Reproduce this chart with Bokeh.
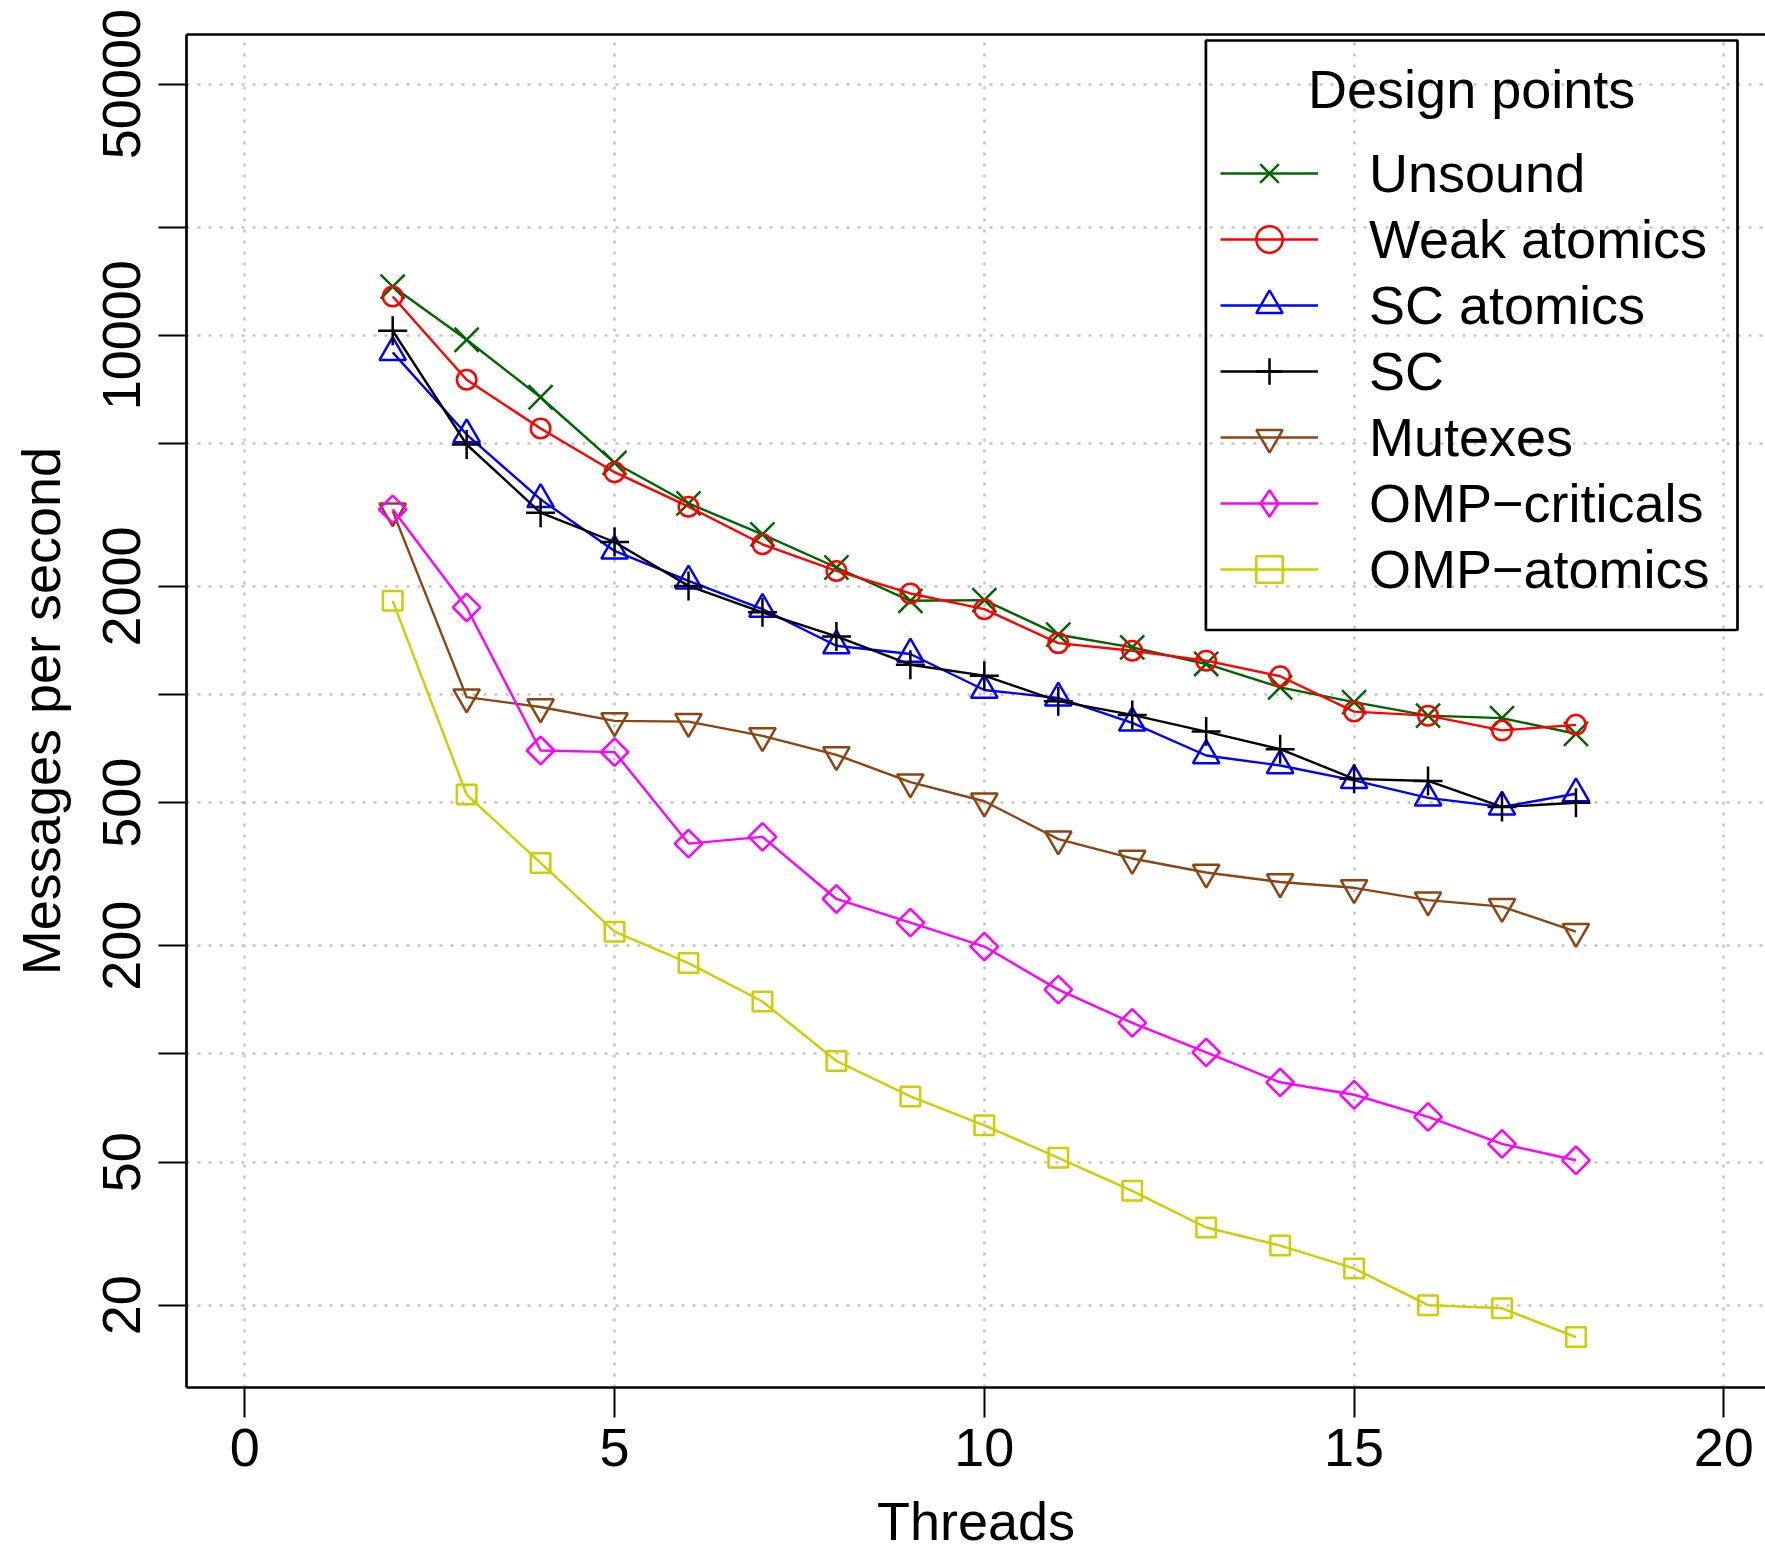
import math
from bokeh.plotting import figure
from bokeh.models import (FixedTicker, PrintfTickFormatter, Legend, LegendItem,
                          LinearAxis, Range1d, Label, BoxAnnotation)
from bokeh.embed import file_html
from bokeh.resources import INLINE

# ---------------- data ----------------
threads = list(range(2, 19))
unsound = [13660, 9716, 6722, 4417, 3404, 2793, 2258, 1824, 1832, 1468, 1354, 1217, 1048, 953, 874, 860, 778]
weak_atomics = [12814, 7522, 5500, 4159, 3334, 2620, 2209, 1912, 1729, 1391, 1325, 1243, 1125, 897, 874, 795, 824]
sc_atomics = [8960, 5293, 3494, 2511, 2073, 1729, 1368, 1297, 1030, 979, 834, 677, 635, 577, 516, 487, 530]
sc = [10292, 4966, 3208, 2659, 2007, 1694, 1452, 1211, 1129, 959, 878, 789, 705, 583, 575, 487, 500]
mutexes = [3241, 984, 924, 845, 841, 768, 680, 571, 505, 396, 350, 320, 301, 290, 268, 257, 219]
omp_criticals = [3278, 1748, 699, 692, 385, 402, 270, 232, 199, 151, 122, 101, 83.4, 77.0, 66.8, 56.2, 50.6]
omp_atomics = [1824, 527, 340, 219, 179, 140, 95.6, 76.2, 63.3, 51.4, 41.6, 32.9, 29.3, 25.3, 20.0, 19.6, 16.3]

series_names = ["Unsound", "Weak atomics", "SC atomics", "SC", "Mutexes",
                "OMP\u2212criticals", "OMP\u2212atomics"]
series_values = [unsound, weak_atomics, sc_atomics, sc, mutexes, omp_criticals, omp_atomics]

x_ticks = [0, 5, 10, 15, 20]
y_labeled_ticks = [20, 50, 200, 500, 2000, 10000, 50000]
y_unlabeled_ticks = [100, 1000, 5000, 20000]

legend_title = "Design points"
x_title = "Threads"
y_title = "Messages per second"

# ---------------- styles ----------------
colors = ["#006400", "#FF0000", "#0000FF", "#000000", "#8B4513", "#FF00FF", "#CDCD00"]
markers = ["x", "circle", "triangle", "cross", "inverted_triangle", "square", "square"]
legend_markers = ["x", "circle", "triangle", "cross", "inverted_triangle", "diamond", "square"]
sizes = [34, 19.5, 26.5, 29, 26.5, 19.5, 19.5]
angles = [0, 0, 0, 0, 0, math.pi / 4, 0]

FONT = "Liberation Sans"
FS = "54px"

p = figure(width=1765, height=1553, y_axis_type="log",
           x_range=Range1d(-0.788, 20.563), y_range=Range1d(11.8, 68700),
           output_backend="svg", toolbar_location=None,
           min_border_left=186, min_border_right=0,
           min_border_top=34, min_border_bottom=163)
p.outline_line_color = None
p.background_fill_color = "white"
p.border_fill_color = "white"
# range used only for legend-swatch renderers (their marks fall outside the frame)
p.extra_y_ranges = {"legend_only": Range1d(1e9, 2e9)}

# ---- axes ----
xa = p.below[0]
xa.ticker = FixedTicker(ticks=x_ticks)
xa.axis_label = x_title
ya = p.left[0]
ya.ticker = FixedTicker(ticks=y_labeled_ticks, minor_ticks=y_unlabeled_ticks)
ya.formatter = PrintfTickFormatter(format="%d")
ya.axis_label = y_title
ya.major_label_orientation = "vertical"

for ax in (xa, ya):
    ax.axis_line_width = 2.7
    ax.axis_line_color = "black"
    ax.major_tick_line_width = 2
    ax.major_tick_line_color = "black"
    ax.major_tick_in = 0
    ax.major_label_text_font = FONT
    ax.major_label_text_font_size = FS
    ax.major_label_text_color = "black"
    ax.axis_label_text_font = FONT
    ax.axis_label_text_font_size = FS
    ax.axis_label_text_font_style = "normal"
    ax.axis_label_text_color = "black"

xa.major_tick_out = 30
xa.major_label_standoff = 11
xa.axis_label_standoff = 22
xa.minor_tick_line_color = None

ya.major_tick_out = 28
ya.major_label_standoff = 18
ya.axis_label_standoff = 30
ya.minor_tick_in = 0
ya.minor_tick_out = 28
ya.minor_tick_line_width = 2
ya.minor_tick_line_color = "black"

# top frame line
top_axis = LinearAxis(ticker=FixedTicker(ticks=[]), axis_line_width=2.7,
                      major_tick_line_color=None, minor_tick_line_color=None,
                      major_tick_out=0, minor_tick_out=0, major_label_standoff=0)
p.add_layout(top_axis, "above")

# ---- grid ----
for g in (p.xgrid, p.ygrid):
    g.grid_line_color = "#c4c4c4"
    g.grid_line_width = 2.5
    g.grid_line_dash = "3 8"
p.ygrid.minor_grid_line_color = "#c4c4c4"
p.ygrid.minor_grid_line_width = 2.5
p.ygrid.minor_grid_line_dash = "3 8"

# ---- series ----
items = []
for name, vals, col, mk, lmk, sz, ang in zip(series_names, series_values, colors,
                                             markers, legend_markers, sizes, angles):
    lr = p.line(threads, vals, line_color=col, line_width=2.4)
    sr = p.scatter(threads, vals, marker=mk, size=sz, angle=ang,
                   line_color=col, line_width=2.5, fill_color=None)
    if lmk != mk:
        # legend swatch with the right shape (legend glyphs are not rotated)
        sw = p.scatter(threads, vals, marker=lmk, size=sz, y_range_name="legend_only",
                       line_color=col, line_width=2.5, fill_color=None)
        items.append(LegendItem(label=name, renderers=[lr, sw]))
    else:
        items.append(LegendItem(label=name, renderers=[lr, sr]))

legend = Legend(items=items, location=(1034, 785),
                label_text_font=FONT, label_text_font_size=FS, label_text_color="black",
                glyph_width=98, glyph_height=66, label_height=66, label_width=355,
                label_standoff=51, spacing=0, padding=0, margin=0,
                border_line_color=None, background_fill_alpha=0)
p.add_layout(legend)

# legend frame (screen units, relative to the plot frame)
p.add_layout(BoxAnnotation(left=1019.4, right=1551, top=1347, bottom=757.5,
                           left_units="screen", right_units="screen",
                           top_units="screen", bottom_units="screen",
                           fill_color=None, fill_alpha=0,
                           line_color="black", line_alpha=1.0, line_width=2.7))

p.add_layout(Label(x=16.59, y=48500, text=legend_title, text_align="center",
                   text_baseline="middle", text_font=FONT, text_font_size=FS,
                   text_color="black"))

open("out.html", "w").write(file_html(p, INLINE))
